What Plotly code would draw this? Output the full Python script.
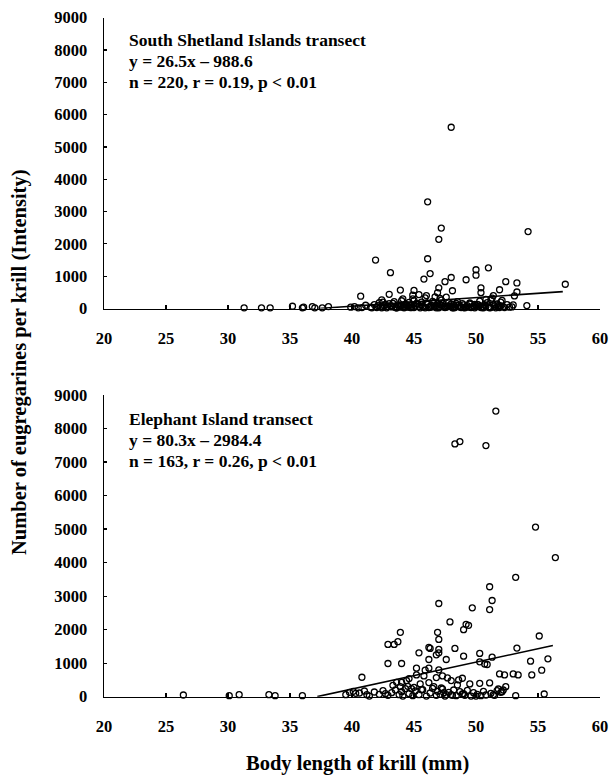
import plotly.graph_objects as go

# ---------------- data ----------------
# South Shetland Islands transect (top panel)
ss_x = [31.3, 32.7, 33.4, 35.2, 36.0, 36.1, 36.8, 37.0, 37.6, 38.1, 39.9, 40.2, 40.5, 40.7, 40.8,
        41.1, 41.9, 42.4, 42.5, 43.0, 43.1, 43.9, 44.1, 44.9, 45.0, 45.4, 45.8, 46.0, 46.1, 46.1,
        46.3, 47.0, 47.2, 47.0, 46.9, 46.7, 47.1, 47.5, 48.0, 48.0, 48.1, 49.2, 50.0, 50.0, 50.4,
        50.4, 51.0, 51.4, 51.9, 52.4, 53.0, 53.1, 53.3, 53.3, 54.1, 54.2, 57.2,
        41.5, 41.8, 42.0, 42.2, 42.3, 42.6, 42.8, 43.0, 43.2, 43.4, 43.5, 43.7, 43.9, 44.0, 44.2,
        44.3, 44.5, 44.6, 44.8, 45.0, 45.1, 45.3, 45.5, 45.6, 45.8, 46.0, 46.2, 46.4, 46.5, 46.7,
        46.9, 47.0, 47.2, 47.3, 47.5, 47.8, 48.0, 48.2, 48.3, 48.5, 48.7, 48.9, 49.1, 49.3, 49.5,
        49.7, 49.9, 50.2, 50.3, 50.5, 50.7, 50.9, 51.1, 51.2, 51.5, 51.7, 51.9, 52.0, 52.2, 52.5,
        42.1, 42.9, 43.3, 43.8, 44.4, 44.7, 45.2, 45.7, 46.3, 46.6, 47.1, 47.4, 47.7, 48.1, 48.4,
        48.8, 49.0, 49.4, 49.8, 50.1, 50.6, 51.0, 51.3, 51.8, 52.1, 52.7, 44.9, 45.9, 47.6, 50.8,
        43.6, 44.1, 46.8, 49.6, 51.6, 52.9,
        41.6, 42.5, 42.7, 43.1, 43.6, 44.2, 44.6, 45.0, 45.4, 45.9, 46.1, 46.4, 46.8, 47.0, 47.3,
        47.6, 47.9, 48.2, 48.6, 49.0, 49.2, 49.5, 49.9, 50.0, 50.4, 50.8, 51.1, 51.4, 51.8, 52.3,
        43.9, 44.8, 45.6, 46.2, 47.5, 48.0, 48.8, 50.2, 51.2, 52.0, 42.4, 44.4, 46.6, 48.4, 50.6]
ss_y = [20, 20, 20, 70, 20, 40, 60, 20, 20, 60, 40, 60, 20, 380, 30,
        100, 1500, 270, 200, 440, 1110, 570, 300, 410, 560, 430, 910, 400, 3300, 1540,
        1080, 2140, 2490, 640, 490, 360, 310, 830, 5610, 960, 550, 890, 1200, 1030, 640,
        490, 1260, 400, 580, 830, 110, 390, 790, 510, 90, 2380, 750,
        40, 120, 30, 180, 60, 90, 20, 150, 50, 210, 30, 110, 70, 240, 20,
        130, 60, 190, 30, 250, 80, 140, 20, 200, 50, 170, 30, 100, 220, 60,
        150, 40, 260, 90, 30, 180, 60, 120, 30, 210, 50, 150, 20, 90, 170,
        40, 130, 60, 230, 30, 110, 180, 50, 270, 80, 140, 30, 200, 60, 120,
        90, 60, 160, 40, 110, 30, 150, 70, 40, 190, 120, 50, 80, 20, 160,
        60, 110, 40, 80, 130, 60, 40, 320, 90, 250, 40, 300, 330, 350, 280,
        20, 40, 20, 30, 20, 50,
        20, 50, 130, 80, 20, 60, 110, 30, 70, 20, 130, 50, 90, 20, 160,
        40, 80, 20, 100, 30, 60, 140, 20, 90, 30, 70, 20, 120, 40, 30,
        100, 60, 110, 50, 70, 140, 30, 110, 30, 80, 20, 40, 60, 100, 20]

# Elephant Island transect (bottom panel)
ei_x = [26.4, 30.1, 30.9, 33.3, 33.8, 36.0, 39.5, 39.8, 40.1, 40.3,
        48.3, 48.7, 50.8, 51.6, 54.8, 56.4, 53.2, 51.1, 55.1, 54.4, 54.5, 55.3, 55.8, 55.5,
        53.2, 53.4, 53.3, 52.3, 52.4, 51.8, 51.3, 51.1, 51.1, 51.3,
        47.0, 49.7, 47.9, 49.2, 49.4, 49.0, 43.9, 46.9, 47.0, 42.9, 43.4, 43.7, 46.2, 46.3,
        47.0, 47.0, 46.8, 48.3, 45.4, 50.3, 42.9, 44.0, 46.2, 47.6, 49.0, 50.3, 50.7, 50.9,
        46.2, 45.2, 47.0, 40.8, 45.9, 45.2, 45.8, 46.8, 47.3, 47.7, 48.0, 48.6, 48.9, 51.9,
        53.0, 43.6, 44.0, 44.4, 44.6, 45.5, 46.2, 49.5, 50.3, 43.3, 43.9, 44.5,
        40.6, 41.0, 41.2, 41.4, 41.8, 42.2, 42.5, 42.9, 43.2, 43.5, 43.8, 44.0, 44.1, 44.3,
        44.6, 44.9, 45.1, 45.4, 45.7, 46.0, 46.3, 46.5, 46.8, 46.9, 47.1, 47.3, 47.5, 47.8,
        48.0, 48.2, 48.4, 48.7, 48.9, 49.1, 49.3, 49.6, 49.8, 50.1, 50.4, 50.6, 50.8, 51.2,
        51.5, 51.7, 52.0, 52.2, 46.6, 47.2, 47.4, 48.1, 48.5, 49.0, 45.0, 45.6, 44.8, 47.6,
        42.7, 50.0, 51.4, 52.1]
ei_y = [50, 30, 60, 60, 30, 30, 60, 130, 160, 100,
        7540, 7610, 7490, 8520, 5060, 4150, 3560, 3280, 1810, 1060, 650, 790, 1130, 80,
        30, 650, 1450, 650, 300, 230, 1180, 410, 2600, 2870,
        2780, 2650, 2230, 2160, 2130, 2000, 1920, 1920, 1710, 1560, 1560, 1640, 1470, 1440,
        1410, 1310, 1250, 1440, 1310, 1290, 990, 990, 1110, 1110, 1210, 1040, 975, 960,
        850, 850, 800, 580, 790, 650, 620, 570, 620, 560, 480, 500, 550, 680,
        680, 430, 430, 480, 540, 380, 420, 380, 400, 340, 300, 310,
        110, 170, 60, 20, 140, 70, 180, 40, 120, 200, 60, 150, 20, 240,
        90, 30, 170, 60, 210, 20, 110, 250, 40, 160, 70, 230, 20, 130,
        60, 200, 30, 150, 80, 40, 190, 20, 120, 70, 30, 160, 50, 100,
        40, 180, 130, 200, 300, 260, 120, 40, 350, 90, 280, 210, 240, 60,
        90, 20, 60, 150]

# regression fits (slope, intercept) and fitted length ranges
ss_fit = [26.5, -988.6]
ss_fit_range = [37.3, 57.0]
ei_fit = [80.3, -2984.4]
ei_fit_range = [37.2, 56.2]

ss_text = ["South Shetland Islands transect", "y = 26.5x \u2013 988.6", "n = 220, r = 0.19, p < 0.01"]
ei_text = ["Elephant Island transect", "y = 80.3x \u2013 2984.4", "n = 163, r = 0.26, p < 0.01"]

x_ticks = [20, 25, 30, 35, 40, 45, 50, 55, 60]
y_ticks = [0, 1000, 2000, 3000, 4000, 5000, 6000, 7000, 8000, 9000]

# ---------------- figure ----------------
W, H = 610, 779
L, R = 104, 10
FONT = "Liberation Serif"

fig = go.Figure()

marker = dict(symbol="circle-open", size=6, color="black", line=dict(width=1.3, color="black"))

def fit_line(fit, rng):
    xs = list(rng)
    ys = [fit[0] * v + fit[1] for v in xs]
    return xs, ys

fig.add_trace(go.Scatter(x=ss_x, y=ss_y, mode="markers", marker=marker, xaxis="x", yaxis="y",
                         cliponaxis=False, showlegend=False, hoverinfo="skip"))
lx, ly = fit_line(ss_fit, ss_fit_range)
fig.add_trace(go.Scatter(x=lx, y=ly, mode="lines", line=dict(color="black", width=1.6),
                         xaxis="x", yaxis="y", showlegend=False, hoverinfo="skip"))

fig.add_trace(go.Scatter(x=ei_x, y=ei_y, mode="markers", marker=marker, xaxis="x2", yaxis="y2",
                         cliponaxis=False, showlegend=False, hoverinfo="skip"))
lx, ly = fit_line(ei_fit, ei_fit_range)
fig.add_trace(go.Scatter(x=lx, y=ly, mode="lines", line=dict(color="black", width=1.6),
                         xaxis="x2", yaxis="y2", showlegend=False, hoverinfo="skip"))

def py(px):
    return 1 - px / H

tickfont = dict(family=FONT, size=16.5, color="black", weight="bold")

xaxis_common = dict(range=[20, 60], tickvals=x_ticks, ticks="inside", ticklen=4, tickwidth=1.2,
                    tickcolor="black", showline=True, linecolor="black", linewidth=1.4,
                    showgrid=False, zeroline=False, tickfont=tickfont, ticklabelstandoff=14,
                    domain=[0, 1], automargin=False, fixedrange=True)
yaxis_common = dict(range=[0, 9000], tickvals=y_ticks, ticks="inside", ticklen=3, tickwidth=1.2,
                    tickcolor="black", showline=True, linecolor="black", linewidth=1.4,
                    showgrid=False, zeroline=False, tickfont=tickfont, ticklabelstandoff=12,
                    automargin=False, fixedrange=True)

fig.update_layout(
    template="none",
    width=W, height=H,
    margin=dict(l=L, r=R, t=0, b=0, autoexpand=False),
    paper_bgcolor="white", plot_bgcolor="white",
    showlegend=False,
    xaxis=dict(**xaxis_common, anchor="y"),
    yaxis=dict(**yaxis_common, domain=[py(308.5), py(17.7)], anchor="x"),
    xaxis2=dict(**xaxis_common, anchor="y2"),
    yaxis2=dict(**yaxis_common, domain=[py(696.7), py(395)], anchor="x2"),
)

annot_font = dict(family=FONT, size=17.5, color="black", weight="bold")
ann = []
for i, t in enumerate(ss_text):
    ann.append(dict(text=t, xref="paper", yref="paper", x=(127 - L) / (W - L - R), y=py(40 + 21 * i),
                    xanchor="left", yanchor="middle", showarrow=False, font=annot_font))
for i, t in enumerate(ei_text):
    ann.append(dict(text=t, xref="paper", yref="paper", x=(127 - L) / (W - L - R), y=py(419 + 21 * i),
                    xanchor="left", yanchor="middle", showarrow=False, font=annot_font))

title_font = dict(family=FONT, size=20.5, color="black", weight="bold")
ann.append(dict(text="Number of eugregarines per krill (Intensity)", xref="paper", yref="paper",
                x=(20 - L) / (W - L - R), y=py(362), textangle=-90, xanchor="center", yanchor="middle",
                showarrow=False, font=title_font))
ann.append(dict(text="Body length of krill (mm)", xref="paper", yref="paper",
                x=(357 - L) / (W - L - R), y=py(763), xanchor="center", yanchor="middle",
                showarrow=False, font=title_font))
fig.update_layout(annotations=ann)

fig.write_html("out.html", config={"displayModeBar": False, "staticPlot": True},
               post_script="document.body.style.margin='0';document.body.style.overflow='hidden';")
